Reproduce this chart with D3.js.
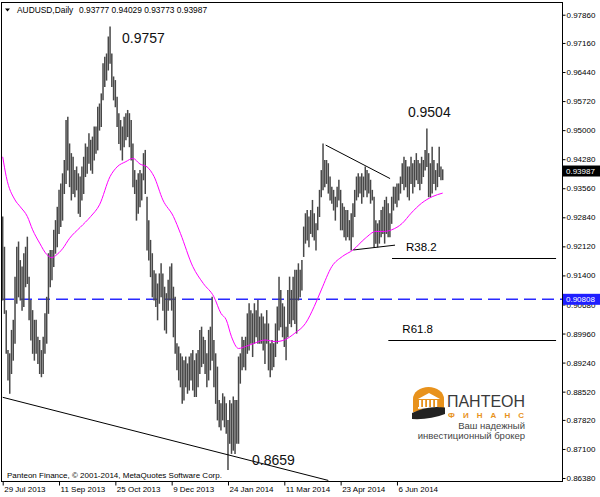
<!DOCTYPE html>
<html><head><meta charset="utf-8">
<script src="https://cdn.jsdelivr.net/npm/d3@7"></script>
<style>
html,body{margin:0;padding:0;background:#fff;}
svg{display:block;}
text{font-family:"Liberation Sans",Arial,sans-serif;}
</style></head><body>
<svg id="c" width="600" height="497"></svg>
<script>
// ---------------- DATA ----------------
const symbol = "AUDUSD,Daily";
const lastOHLC = ["0.93777", "0.94029", "0.93773", "0.93987"];
const lastClose = 0.93987;
const highs = [
0.9286,0.9211,0.9054,0.8955,0.8947,0.9005,0.9030,0.9137,0.9211,0.9224,
0.9178,0.9162,0.9195,0.9211,0.9236,0.9137,0.9079,0.9054,0.9030,0.9030,
0.8988,0.8980,0.8955,0.8988,0.9046,0.9087,0.9195,0.9203,0.9203,0.9253,
0.9277,0.9310,0.9352,0.9368,0.9393,0.9426,0.9525,0.9533,0.9467,0.9443,
0.9434,0.9401,0.9410,0.9393,0.9385,0.9410,0.9434,0.9467,0.9459,0.9492,
0.9476,0.9484,0.9509,0.9509,0.9558,0.9566,0.9591,0.9666,0.9682,0.9690,
0.9732,0.9757,0.9690,0.9633,0.9624,0.9583,0.9542,0.9525,0.9509,0.9533,
0.9542,0.9550,0.9542,0.9525,0.9467,0.9401,0.9377,0.9393,0.9401,0.9393,
0.9443,0.9451,0.9335,0.9277,0.9228,0.9195,0.9153,0.9145,0.9120,0.9145,
0.9170,0.9145,0.9112,0.9096,0.9129,0.9162,0.9170,0.9112,0.9087,0.8972,
0.8964,0.8947,0.8939,0.8930,0.8939,0.8922,0.8939,0.8947,0.8955,0.8930,
0.8947,0.8955,0.9005,0.9013,0.8988,0.8980,0.8947,0.9005,0.9013,0.9087,
0.8980,0.8947,0.8914,0.8831,0.8823,0.8848,0.8840,0.8823,0.8782,
0.8831,0.8823,0.8840,0.8831,0.8831,0.8939,0.8947,0.8988,0.8980,0.8988,
0.9046,0.9071,0.9054,0.9046,0.9071,0.9054,0.9079,0.9038,0.9046,0.9038,
0.9021,0.9054,0.9021,0.8972,0.8980,0.8972,0.9021,0.9063,0.9137,0.9104,
0.9071,0.9063,0.9013,0.9104,0.9137,0.9104,0.9137,0.9154,0.9154,0.9170,
0.9154,0.9178,0.9261,0.9294,0.9302,0.9286,0.9302,0.9327,0.9294,0.9269,
0.9310,0.9352,0.9401,0.9467,0.9426,0.9426,0.9418,0.9385,0.9360,0.9352,
0.9335,0.9360,0.9377,0.9352,0.9319,0.9310,0.9302,0.9302,0.9277,0.9294,
0.9319,0.9352,0.9385,0.9393,0.9385,0.9393,0.9385,0.9410,0.9401,0.9393,
0.9377,0.9352,0.9335,0.9277,0.9269,0.9277,0.9302,0.9310,0.9327,0.9335,
0.9319,0.9294,0.9335,0.9360,0.9360,0.9368,0.9368,0.9385,0.9418,0.9434,
0.9426,0.9410,0.9410,0.9434,0.9418,0.9426,0.9443,0.9426,0.9418,0.9434,
0.9426,0.9451,0.9504,0.9443,0.9418,0.9459,0.9426,0.9401,0.9418,0.9459,
0.9410,0.94029
];
const lows = [
0.9079,0.9046,0.8947,0.8881,0.8848,0.8897,0.8930,0.8972,0.9071,0.9087,
0.9079,0.9054,0.9063,0.9112,0.9120,0.9030,0.8980,0.8947,0.8930,0.8947,
0.8922,0.8897,0.8889,0.8897,0.8947,0.8972,0.9046,0.9112,0.9129,0.9162,
0.9195,0.9211,0.9244,0.9261,0.9277,0.9343,0.9368,0.9401,0.9360,0.9327,
0.9343,0.9335,0.9352,0.9294,0.9286,0.9327,0.9343,0.9385,0.9393,0.9418,
0.9401,0.9393,0.9426,0.9443,0.9451,0.9500,0.9509,0.9575,0.9608,0.9624,
0.9649,0.9666,0.9608,0.9575,0.9558,0.9509,0.9467,0.9451,0.9426,0.9459,
0.9476,0.9484,0.9459,0.9426,0.9360,0.9343,0.9277,0.9294,0.9310,0.9327,
0.9377,0.9343,0.9203,0.9178,0.9137,0.9087,0.9079,0.9063,0.9030,0.9071,
0.9087,0.9054,0.9005,0.8997,0.9054,0.9079,0.9054,0.8988,0.8947,0.8906,
0.8881,0.8864,0.8823,0.8831,0.8864,0.8848,0.8856,0.8881,0.8856,0.8840,
0.8840,0.8864,0.8897,0.8914,0.8922,0.8897,0.8864,0.8881,0.8906,0.8930,
0.8864,0.8823,0.8782,0.8765,0.8757,0.8782,0.8765,0.8749,0.8659,
0.8724,0.8699,0.8707,0.8699,0.8724,0.8724,0.8873,0.8906,0.8914,0.8906,
0.8947,0.8955,0.8972,0.8939,0.8972,0.8988,0.8972,0.8972,0.8972,0.8955,
0.8922,0.8972,0.8906,0.8889,0.8906,0.8914,0.8939,0.8972,0.9005,0.9013,
0.8988,0.8964,0.8931,0.8988,0.9021,0.9013,0.9030,0.9021,0.8997,0.9079,
0.9087,0.9104,0.9187,0.9220,0.9228,0.9211,0.9244,0.9236,0.9228,0.9203,
0.9253,0.9286,0.9335,0.9352,0.9360,0.9368,0.9344,0.9327,0.9319,0.9302,
0.9277,0.9310,0.9327,0.9253,0.9253,0.9236,0.9228,0.9236,0.9228,0.9203,
0.9236,0.9286,0.9327,0.9335,0.9344,0.9319,0.9335,0.9352,0.9335,0.9344,
0.9319,0.9327,0.9211,0.9220,0.9211,0.9220,0.9236,0.9244,0.9220,0.9244,
0.9236,0.9236,0.9269,0.9302,0.9319,0.9310,0.9327,0.9344,0.9368,0.9352,
0.9360,0.9335,0.9327,0.9368,0.9344,0.9360,0.9377,0.9368,0.9352,0.9368,
0.9385,0.9401,0.9410,0.9335,0.9335,0.9344,0.9368,0.9352,0.9360,0.9385,
0.9377,0.93773
];
// moving average at bar indices
const maIdx = [0,2,7,10,14,17,21,25,28,30,34,38,44,50,55,61,65,70,74,78,82,86,91,97,101,108,114,120,124,127,130,134,138,143,149,155,160,166,172,177,181,187,193,199,206,212,217,221,227,232,238,244,250];
const maVal = [0.9434,0.9385,0.9327,0.9310,0.9286,0.9253,0.9220,0.9192,0.9184,0.9189,0.9206,0.9232,0.9259,0.9286,0.9315,0.9385,0.9409,0.9422,0.9430,0.9416,0.9409,0.9385,0.9327,0.9286,0.9244,0.9162,0.9120,0.9087,0.9046,0.9030,0.8988,0.8959,0.8964,0.8972,0.8980,0.8976,0.8980,0.8997,0.9021,0.9063,0.9104,0.9162,0.9187,0.9203,0.9232,0.9249,0.9249,0.9253,0.9269,0.9294,0.9319,0.9335,0.9344];
const dateTickIdx = [0,32,64,96,128,160,192,224];
const dateTickLabels = ["29 Jul 2013","11 Sep 2013","25 Oct 2013","9 Dec 2013","24 Jan 2014","11 Mar 2014","23 Apr 2014","6 Jun 2014"];
const priceTicks = [0.97860,0.97160,0.96440,0.95720,0.95000,0.94280,0.93560,0.92840,0.92120,0.91400,0.90680,0.89960,0.89240,0.88520,0.87820,0.87100,0.86380];
const hLinePrice = 0.90808;
const trendStart = [[0,0.8838],[183.5,0.9463],[199.2,0.9203]];
const trendEnd   = [[185,0.8632],[220.1,0.9380],[222.9,0.9215]];
const fibNames  = ["R38.2","R61.8"];
const fibPrices = [0.9183,0.8980];
const fibFrom   = [221.2,219.1];
const fibTo     = [314.4,314.4];
const peakLabels = ["0.9757","0.9504","0.8659"];
const peakIdx    = [61,241,128];
const peakPrice  = [0.9757,0.9504,0.8659];
const copyright = "Panteon Finance, © 2001-2014, MetaQuotes Software Corp.";

// ---------------- CHART ----------------
const svg = d3.select("#c");
const L=2, R=562, T=3, B=481;
const x = d3.scaleLinear().domain([0,318]).range([2.7,562.4]);
const y = d3.scaleLinear().domain([0.86306,0.98175]).range([481,2]);

svg.append("rect").attr("width",600).attr("height",497).attr("fill","#fff");
svg.append("defs").append("clipPath").attr("id","clip")
  .append("rect").attr("x",L).attr("y",T).attr("width",R-L).attr("height",B-T);
const g = svg.append("g").attr("clip-path","url(#clip)");

// blue dashed horizontal line
g.append("line").attr("x1",L).attr("x2",R)
  .attr("y1",y(hLinePrice)).attr("y2",y(hLinePrice))
  .attr("stroke","#2a2aff").attr("stroke-width",1.4).attr("stroke-dasharray","12,6");

// bars
const bars = highs.map((h,i)=>({i, h, l: lows[i]}));
g.selectAll("line.bar").data(bars).enter().append("line").attr("class","bar")
  .attr("x1",d=>x(d.i)).attr("x2",d=>x(d.i))
  .attr("y1",d=>y(d.h)).attr("y2",d=>y(d.l)+0.5)
  .attr("stroke","#484848").attr("stroke-width",1.5);

// moving average
const ma = maIdx.map((d,k)=>[d,maVal[k]]);
g.append("path").datum(ma)
  .attr("d", d3.line().x(d=>x(d[0])).y(d=>y(d[1])).curve(d3.curveMonotoneX))
  .attr("fill","none").attr("stroke","#ff00ff").attr("stroke-width",1);

// trend lines
trendStart.forEach((s,k)=>{
  const e = trendEnd[k];
  g.append("line").attr("x1",x(s[0])).attr("y1",y(s[1])).attr("x2",x(e[0])).attr("y2",y(e[1]))
    .attr("stroke","#000").attr("stroke-width",1);
});

// fib levels
fibNames.forEach((n,k)=>{
  const yy = Math.round(y(fibPrices[k]))+0.5;
  g.append("line").attr("x1",x(fibFrom[k])).attr("x2",x(fibTo[k])).attr("y1",yy).attr("y2",yy)
    .attr("stroke","#000").attr("stroke-width",1);
  g.append("text").attr("x",x(fibFrom[k])+14).attr("y",yy-8).text(n)
    .attr("font-size",11.5).attr("fill","#000");
});

// peak labels
const pOff = [[12,17],[-19,-12],[24,-4.5]];
peakLabels.forEach((t,k)=>{
  g.append("text").attr("x",x(peakIdx[k])+pOff[k][0]).attr("y",y(peakPrice[k])+pOff[k][1])
    .text(t).attr("font-size",14).attr("fill","#111");
});

// frame
svg.append("rect").attr("x",1.5).attr("y",2.5).attr("width",561).attr("height",479)
  .attr("fill","none").attr("stroke","#000").attr("stroke-width",1);

// y axis
const ya = svg.append("g").attr("transform",`translate(${R+0.5},0)`)
  .call(d3.axisRight(y).tickValues(priceTicks).tickFormat(d3.format(".5f")).tickSize(3).tickPadding(1));
ya.select(".domain").remove();
ya.selectAll("text").attr("font-size",8).attr("font-family","Liberation Sans, Arial, sans-serif").attr("fill","#000");
ya.selectAll("line").attr("stroke","#000");

// x axis
const xa = svg.append("g").attr("transform",`translate(0,${B+0.5})`)
  .call(d3.axisBottom(x).tickValues(dateTickIdx).tickFormat((d,i)=>dateTickLabels[i]).tickSize(4).tickPadding(1));
xa.select(".domain").remove();
xa.selectAll("text").attr("font-size",8).attr("font-family","Liberation Sans, Arial, sans-serif")
  .attr("text-anchor","start").attr("dx",1).attr("fill","#000");
xa.selectAll("line").attr("stroke","#000");

// price boxes
function priceBox(p, fill, label){
  const yy = y(p);
  svg.append("rect").attr("x",R+1).attr("y",yy-5.5).attr("width",38).attr("height",11).attr("fill",fill);
  svg.append("text").attr("x",R+4).attr("y",yy+3).text(label).attr("font-size",8).attr("fill","#fff");
}
priceBox(lastClose,"#000",lastOHLC[3]);
priceBox(hLinePrice,"#1f1fff",d3.format(".5f")(hLinePrice));

// header
svg.append("path").attr("d","M5,8.5 L10,8.5 L7.5,11.5 Z").attr("fill","#000");
svg.append("text").attr("x",17).attr("y",12.5).text(symbol).attr("font-size",8.4).attr("fill","#000");
svg.append("text").attr("x",79).attr("y",12.5).text(lastOHLC.join(" ")).attr("font-size",8.4).attr("fill","#000");

// copyright
svg.append("text").attr("x",7).attr("y",478).text(copyright).attr("font-size",8).attr("fill","#000");

// logo
const lg = svg.append("g");
lg.append("path").attr("d","M413,412 V399 A15.5,12 0 0 1 444,399 V410 Z").attr("fill","#e8921c");
lg.append("path").attr("d","M418,399 L429,393 L440,399 Z").attr("fill","#fff");
[419,423,427,431,435].forEach(cx=>lg.append("rect").attr("x",cx).attr("y",400).attr("width",2.2).attr("height",7).attr("fill","#fff"));
lg.append("rect").attr("x",418).attr("y",407).attr("width",22).attr("height",1.8).attr("fill","#fff");
lg.append("path").attr("d","M412,413 Q428,405 445,407.5 L445,414 Q430,420 412,419 Z").attr("fill","#222");
lg.append("text").attr("x",447).attr("y",407).text("ПАНТЕОН")
  .attr("font-family","DejaVu Sans, sans-serif").attr("font-size",17).attr("fill","#3a3a3a")
  .attr("textLength",78).attr("lengthAdjust","spacingAndGlyphs");
lg.append("text").attr("x",448).attr("y",417.5).text("ФИНАНС")
  .attr("font-family","DejaVu Sans, sans-serif").attr("font-size",8).attr("font-weight","bold").attr("fill","#e8921c")
  .attr("textLength",76).attr("lengthAdjust","spacing");
lg.append("text").attr("x",525).attr("y",428.5).text("Ваш надежный").attr("text-anchor","end")
  .attr("font-family","Liberation Serif, serif").attr("font-size",9.5).attr("fill","#444");
lg.append("text").attr("x",525).attr("y",438.5).text("инвестиционный брокер").attr("text-anchor","end")
  .attr("font-family","Liberation Serif, serif").attr("font-size",9.5).attr("fill","#444");
</script>
</body></html>
